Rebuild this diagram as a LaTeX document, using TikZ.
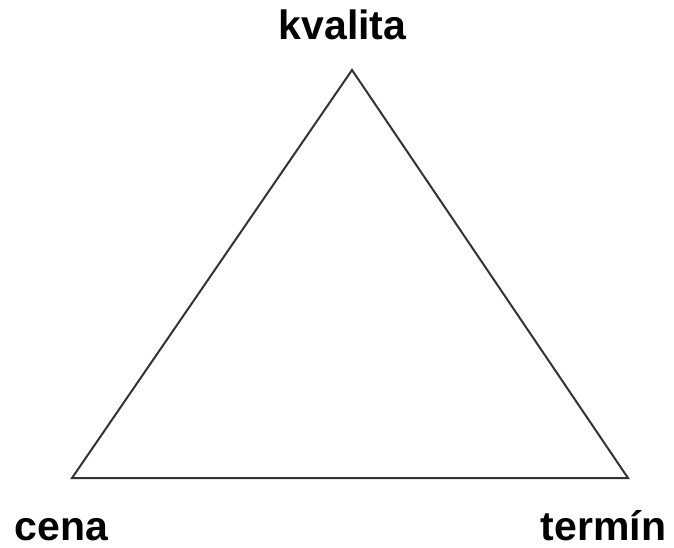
\documentclass[tikz,border=0pt]{standalone}
\usepackage{fontspec}
\setmainfont{Liberation Sans}
\usepackage{tikz}
\usetikzlibrary{positioning}

\begin{document}
\begin{tikzpicture}[
  x=0.5pt,y=-0.5pt,
  label/.style={font=\fontsize{20.5pt}{24pt}\selectfont\bfseries,anchor=base,inner sep=0pt},
  edge/.style={line width=1pt,color=black!80,line join=miter}
]
\useasboundingbox (0,0) rectangle (674,547);
\coordinate (top) at (352,70);
\coordinate (left) at (72,478);
\coordinate (right) at (628,478);
\node[label] (kvalita) at (342.5,39) {kvalita};
\node[label] (cena) at (61.5,540) {cena};
\node[label] (termin) at (603.5,540) {termín};
\draw[edge] (top)--(right)--(left)--cycle;
\end{tikzpicture}
\end{document}
